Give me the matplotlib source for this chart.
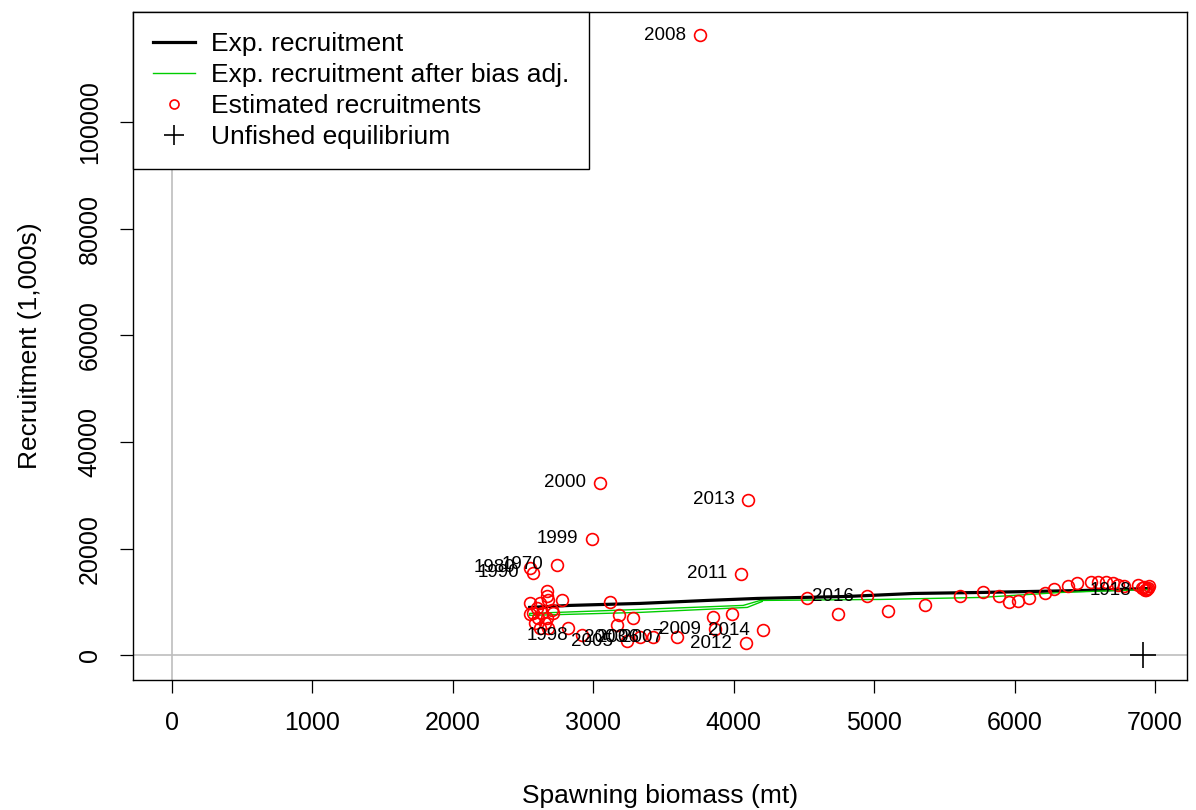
import matplotlib
matplotlib.use("Agg")
import matplotlib.pyplot as plt
from matplotlib.lines import Line2D

plt.rcParams["font.family"] = ["Liberation Sans", "DejaVu Sans"]

# Estimated recruitments (spawning biomass, recruitment)
ssb = [
    3761, 3047, 4103, 2990, 2740, 2547, 2569, 4053, 4952, 6930, 2918,
    3240, 3332, 3425, 3596, 3868, 4210, 4089,
    2669, 2669, 2676, 2776, 2547, 2619, 2569, 2547, 2633, 2712, 2605,
    2669, 2583, 2654, 2619, 2676, 2819, 2704, 2597,
    3118, 3183, 3283, 3168, 3853, 3989, 4524,
    4745, 5095, 5359, 5609, 5773, 5887, 5958, 6023, 6101, 6215, 6279,
    6379, 6444, 6543, 6593, 6650, 6700, 6736, 6779, 6879, 6922, 6950,
    6936, 6957, 6943, 6907,
]
recr = [
    116262, 32336, 29160, 21870, 17010, 16450, 15510, 15330, 11030, 12150, 3738,
    2617, 3364, 3364, 3364, 4860, 4673, 2243,
    11963, 11028, 10280, 10280, 9720, 9720, 7850, 7664, 7850, 7850, 6916,
    6916, 5981, 5981, 5047, 5047, 5047, 8411, 8785,
    9907, 7477, 6916, 5607, 7103, 7664, 10654,
    7664, 8224, 9346, 11028, 11776, 11028, 9907, 10093, 10654, 11589, 12336,
    12897, 13458, 13645, 13832, 13645, 13458, 13084, 12897, 13084, 12710, 12523,
    12150, 12897, 12336, 12523,
]

# year labels (first entries of the point arrays)
label_years = ["2008", "2000", "2013", "1999", "1970", "1980", "1990", "2011",
               "2016", "1918", "1998", "2005", "2003", "2006", "2007", "2009",
               "2014", "2012"]

# expected recruitment curve, in year order
exp_ssb = [6957, 6493, 5758, 5280, 4809, 4167, 3810, 3332, 2833, 2547]
exp_recr = [12523, 12150, 11776, 11589, 11028, 10654, 10280, 9720, 9346, 8972]

# expected recruitment after bias adjustment, in year order
adj_ssb = [6950, 6329, 5758, 5045, 4189, 4067, 3332, 2547, 2547, 3332, 4096, 4203]
adj_recr = [12336, 11776, 10841, 10467, 10280, 9346, 8598, 7850, 7477, 8037, 8972, 10093]

# unfished equilibrium
unfished_ssb = 6914
unfished_recr = 0

fig = plt.figure(figsize=(11.96, 8.10), dpi=100)
ax = fig.add_axes([0.1112, 0.1605, 0.8813, 0.8247])

ax.axhline(0, color="#BEBEBE", lw=1.2, zorder=1)
ax.axvline(0, color="#BEBEBE", lw=1.2, zorder=1)

ax.plot(exp_ssb, exp_recr, color="black", lw=2.3, zorder=2)
ax.plot(adj_ssb, adj_recr, color="#00CD00", lw=1.0, zorder=3)
ax.plot(ssb, recr, ls="none", marker="o", ms=8.5, mfc="none",
        mec="#FF0000", mew=1.2, zorder=4)
ax.plot(unfished_ssb, unfished_recr, ls="none", marker="+", ms=19,
        mec="black", mew=1.2, zorder=5)

for i, yr in enumerate(label_years):
    ax.annotate(yr, (ssb[i], recr[i]), xytext=(-10, 0), textcoords="offset points",
                ha="right", va="center", fontsize=13.5, zorder=6)

ax.set_xlim(-278, 7228)
ax.set_ylim(-4640, 120640)
ax.set_xticks(range(0, 7001, 1000))
ax.set_yticks(range(0, 100001, 20000))
ax.tick_params(direction="out", length=9.5, width=0.9, labelsize=18, pad=13)
for lbl in ax.get_yticklabels():
    lbl.set_rotation(90)
    lbl.set_va("center")
for sp in ax.spines.values():
    sp.set_linewidth(1.0)

ax.set_xlabel("Spawning biomass (mt)", fontsize=19, labelpad=35)
ax.set_ylabel("Recruitment (1,000s)", fontsize=19, labelpad=26)

handles = [
    Line2D([], [], color="black", lw=2.3),
    Line2D([], [], color="#00CD00", lw=1.0),
    Line2D([], [], ls="none", marker="o", ms=6.5, mfc="none", mec="#FF0000", mew=1.2),
    Line2D([], [], ls="none", marker="+", ms=14, mec="black", mew=1.2),
]
names = ["Exp. recruitment", "Exp. recruitment after bias adj.",
         "Estimated recruitments", "Unfished equilibrium"]
leg = ax.legend(handles, names, loc="upper left", bbox_to_anchor=(0, 1),
                borderaxespad=0, fancybox=False, framealpha=1, edgecolor="black",
                fontsize=19, handlelength=1.6, handletextpad=0.6,
                labelspacing=0.27, borderpad=0.75)
leg.get_frame().set_linewidth(1.0)

fig.savefig("out.png", dpi=100)
